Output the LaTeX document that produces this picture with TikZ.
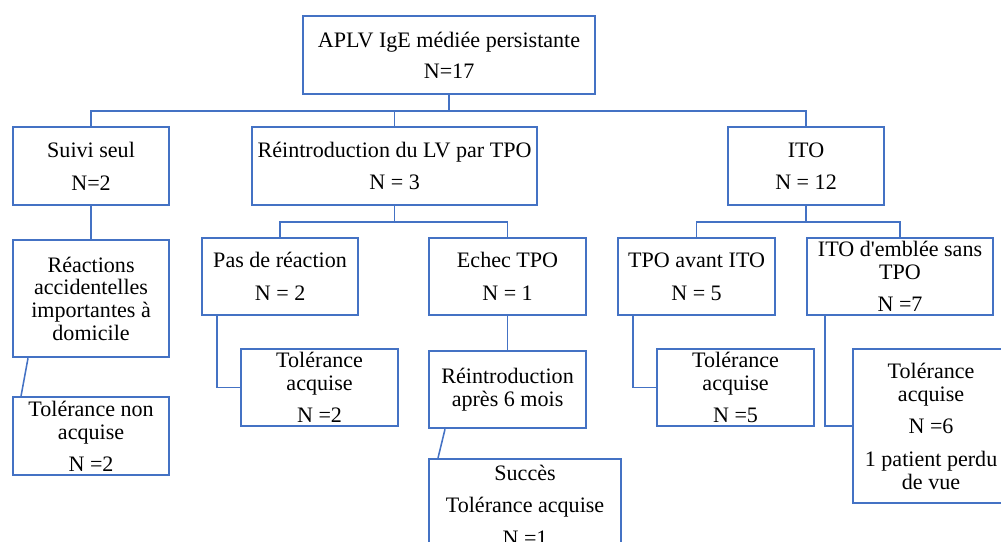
\documentclass[tikz,border=0pt]{standalone}
\usepackage{fontspec}
\setmainfont{Liberation Serif}
\usetikzlibrary{positioning}
\definecolor{boxblue}{RGB}{68,114,196}

\begin{document}
\begin{tikzpicture}[x=0.025cm,y=-0.025cm,node distance=0.85cm,
                    box/.style={draw=boxblue,line width=1.5pt,align=center,inner sep=0pt,
                                anchor=north west,font=\fontsize{15.7}{16.2}\selectfont},
                    size/.style 2 args={minimum width=#1*0.025cm,minimum height=#2*0.025cm},
                    link/.style={draw=boxblue,line width=1.1pt}]
  \useasboundingbox (0,0) rectangle (1001,541);

  \node[box,size={292}{78}] (root) at (302,15) {APLV IgE médiée persistante\\[6pt]N=17};
  \node[box,size={156}{78}] (suivi) at (12,126) {Suivi seul\\[7pt]N=2};
  \node[box,size={285}{78}] (reintro) at (251,126) {Réintroduction du LV par TPO\\[7pt]N = 3};
  \node[box,size={156}{78}] (ito) at (727,126) {ITO\\[7pt]N = 12};

  \node[box,size={156}{117},below=0.825cm of suivi] (react) {Réactions\\accidentelles\\importantes à\\domicile};
  \node[box,size={156}{78},below=0.95cm of react] (tolnon) {Tolérance non\\acquise\\[7pt]N =2};

  \node[box,size={156}{77}] (pasreac) at (201,237) {Pas de réaction\\[7pt]N = 2};
  \node[box,size={157}{77}] (echec) at (428,237) {Echec TPO\\[7pt]N = 1};
  \node[box,size={157}{77}] (tpoav) at (617,237) {TPO avant ITO\\[7pt]N = 5};
  \node[box,size={186}{77}] (emblee) at (806,237) {ITO d\textquotesingle emblée sans\\TPO\\[7pt]N =7};

  \node[box,size={157}{77}] (tolpas) at (240,348) {Tolérance\\acquise\\[7pt]N =2};
  \node[box,size={157}{77},below=0.85cm of echec] (reintro6) {Réintroduction\\après 6 mois};
  \node[box,size={192}{92}] (succes) at (428,458) {Succès\\[7pt]Tolérance acquise\\[7pt]N =1};
  \node[box,size={157}{77}] (tolito) at (656,348) {Tolérance\\acquise\\[7pt]N =5};
  \node[box,size={156}{154}] (tolemb) at (852,348) {Tolérance\\acquise\\[7pt]N =6\\[7pt]1 patient perdu\\de vue};

  \draw[link] (root.south) -- ++(0,16) coordinate (rb);
  \draw[link] (suivi.north) |- (rb) -| (ito.north);
  \draw[link] (reintro.north) -- (reintro.north |- rb);
  \draw[link] (reintro.south) -- ++(0,16) coordinate (cb);
  \draw[link] (pasreac.north) |- (cb) -| (echec.north);
  \draw[link] (ito.south) -- ++(0,16) coordinate (ib);
  \draw[link] (tpoav.north) |- (ib) -| (emblee.north);
  \draw[link] (suivi) -- (react);
  \draw[link] ([xshift=0.4cm]react.south west) -- ([xshift=0.225cm]tolnon.north west);
  \draw[link] ([xshift=0.4cm]pasreac.south west) |- (tolpas.west);
  \draw[link] (echec) -- (reintro6);
  \draw[link] ([xshift=0.425cm]reintro6.south west) -- ([xshift=0.25cm]succes.north west);
  \draw[link] ([xshift=0.4cm]tpoav.south west) |- (tolito.west);
  \draw[link] ([xshift=0.475cm]emblee.south west) |- (tolemb.west);
\end{tikzpicture}
\end{document}
